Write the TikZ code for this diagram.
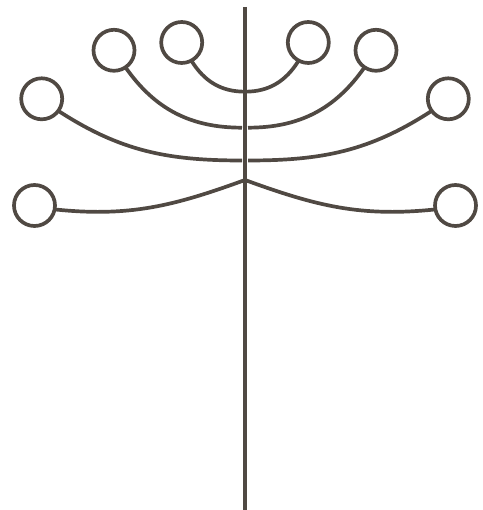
\documentclass[tikz,border=0pt]{standalone}
\definecolor{mybrown}{RGB}{80, 73, 67}
\begin{document}
\begin{tikzpicture}[x=1pt, y=1pt,
    stalk/.style={draw=mybrown, line width=3.7pt},
    bud/.style={circle, draw=mybrown, line width=3.7pt, minimum size=41pt, inner sep=0pt, outer sep=0pt}]
  \useasboundingbox (0,0) rectangle (482,510);
  % buds, left and right
  \node[bud] (a1) at (181.7,467.5) {};
  \node[bud] (a2) at (114,459.7) {};
  \node[bud] (a3) at (41.7,411.2) {};
  \node[bud] (a4) at (34.5,304.5) {};
  \node[bud] (b1) at (308.3,467.5) {};
  \node[bud] (b2) at (376,459.7) {};
  \node[bud] (b3) at (448.3,411.2) {};
  \node[bud] (b4) at (455.5,304.5) {};
  % points on the stem
  \coordinate (top) at (245,503);
  \coordinate (bottom) at (245,0);
  \coordinate (s1) at (245,418.3);
  \coordinate (s2l) at (242,382.3);
  \coordinate (s2r) at (248,382.3);
  \coordinate (s3l) at (242,349.5);
  \coordinate (s3r) at (248,349.5);
  \coordinate (s4) at (245,330);
  \draw[stalk] (top) -- (bottom);
  % arcs
  \draw[stalk] (a1.-62) to[out=-58, in=180] (s1) to[out=0, in=-122] (b1.-118);
  \draw[stalk] (a2.-56) to[out=-55, in=180] (s2l);
  \draw[stalk] (b2.-124) to[out=-125, in=0] (s2r);
  \draw[stalk] (a3.-36) to[out=-33, in=180] (s3l);
  \draw[stalk] (b3.-144) to[out=-147, in=0] (s3r);
  \draw[stalk] (a4.-11) to[out=-6, in=200] (s4);
  \draw[stalk] (b4.-169) to[out=-174, in=-20] (s4);
\end{tikzpicture}
\end{document}
